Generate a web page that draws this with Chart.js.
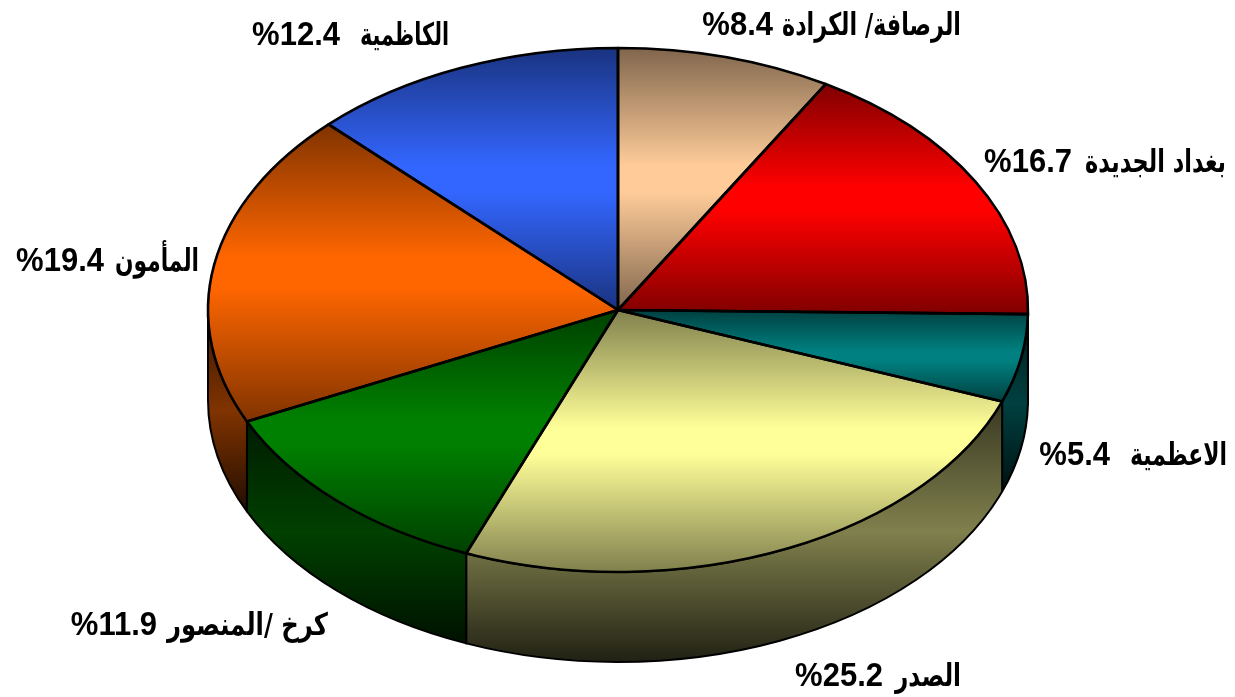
<!DOCTYPE html>
<html lang="ar">
<head>
<meta charset="utf-8">
<style>html,body{margin:0;padding:0;background:#fff}canvas{display:block}</style>
<script src="https://cdn.jsdelivr.net/npm/chart.js@4"></script>
</head>
<body>
<canvas id="c" width="1235" height="697"></canvas>
<script>
const categories = ["الرصافة/ الكرادة","بغداد الجديدة","الاعظمية","الصدر","كرخ /المنصور","المأمون","الكاظمية"];
const values = [8.4,16.7,5.4,25.2,11.9,19.4,12.4];
const baseColors = [[255,204,153],[255,0,0],[0,128,128],[255,255,153],[0,128,0],[255,102,0],[51,102,255]];
const nameRight = [961,1226,1227,961,328,199,449];
const nameWidth = [179,141,97,66,161,84,89];
const numberRight = [773,1072,1110,883,157,104,340];
const baselines = [35,172,465,686,635,271,45];

const SQUASH = 262/410, DEPTH = 90, RADIUS = 410;
const shade = (c,f)=>`rgb(${c.map(v=>Math.round(v*f)).join(",")})`;

function sliceAngles(i){
  const total = values.reduce((a,b)=>a+b,0);
  let s = 0; for(let k=0;k<i;k++) s += values[k];
  return [-Math.PI/2 + s/total*2*Math.PI, -Math.PI/2 + (s+values[i])/total*2*Math.PI];
}
function sinRange(a0,a1){
  let lo = Math.min(0,Math.sin(a0),Math.sin(a1)), hi = Math.max(0,Math.sin(a0),Math.sin(a1));
  for(const t of [-Math.PI/2,Math.PI/2,3*Math.PI/2]){
    if(t>a0&&t<a1){lo=Math.min(lo,Math.sin(t));hi=Math.max(hi,Math.sin(t));}
  }
  return [lo,hi];
}
function topFill(c){
  const area = c.chart.chartArea, col = baseColors[c.dataIndex];
  if(!area) return shade(col,1);
  const cy = (area.top+area.bottom)/2;
  const [a0,a1] = sliceAngles(c.dataIndex);
  const [lo,hi] = sinRange(a0,a1);
  const g = c.chart.ctx.createLinearGradient(0,cy+lo*RADIUS,0,cy+hi*RADIUS);
  g.addColorStop(0,shade(col,.5));
  g.addColorStop(.45,shade(col,1));
  g.addColorStop(.55,shade(col,1));
  g.addColorStop(1,shade(col,.5));
  return g;
}
const pie3d = {
  id:"pie3d",
  beforeDatasetsDraw(chart){
    const ctx = chart.ctx, arcs = chart.getDatasetMeta(0).data;
    arcs.forEach((el,i)=>{
      const a0 = Math.max(el.startAngle,0), a1 = Math.min(el.endAngle,Math.PI);
      if(a1<=a0) return;
      const R = el.outerRadius, r = R*SQUASH, col = baseColors[i];
      const yA = el.y + Math.min(Math.sin(a0),Math.sin(a1))*r;
      const yB = el.y + (a0<Math.PI/2&&a1>Math.PI/2 ? r : Math.max(Math.sin(a0),Math.sin(a1))*r) + DEPTH;
      const g = ctx.createLinearGradient(0,yA,0,yB);
      g.addColorStop(0,shade(col,.22));
      g.addColorStop(.5,shade(col,.5));
      g.addColorStop(1,shade(col,.13));
      ctx.save();
      ctx.beginPath();
      ctx.ellipse(el.x,el.y,R,r,0,a0,a1,false);
      ctx.ellipse(el.x,el.y+DEPTH,R,r,0,a1,a0,true);
      ctx.closePath();
      ctx.fillStyle = g; ctx.fill();
      ctx.strokeStyle = "#000"; ctx.lineWidth = 2; ctx.lineJoin = "round"; ctx.stroke();
      ctx.restore();
    });
    ctx.save();
    const e = arcs[0];
    ctx.translate(e.x,e.y); ctx.scale(1,SQUASH); ctx.translate(-e.x,-e.y);
  },
  afterDatasetsDraw(chart){
    const ctx = chart.ctx, arcs = chart.getDatasetMeta(0).data;
    ctx.restore();
    arcs.forEach(el=>{
      ctx.save();
      ctx.beginPath();
      ctx.moveTo(el.x,el.y);
      ctx.ellipse(el.x,el.y,el.outerRadius,el.outerRadius*SQUASH,0,el.startAngle,el.endAngle,false);
      ctx.closePath();
      ctx.strokeStyle = "#000"; ctx.lineWidth = 2.6; ctx.lineJoin = "round"; ctx.stroke();
      ctx.restore();
    });
  },
  afterDraw(chart){
    const ctx = chart.ctx;
    categories.forEach((name,i)=>{
      const y = baselines[i];
      ctx.save();
      ctx.fillStyle = "#000"; ctx.textBaseline = "alphabetic";
      ctx.direction = "rtl"; ctx.textAlign = "right";
      ctx.font = 'bold 31px "DejaVu Sans","Liberation Sans",sans-serif';
      const sx = nameWidth[i]/ctx.measureText(name).width;
      ctx.translate(nameRight[i],y); ctx.scale(sx,1);
      ctx.fillText(name,0,0);
      ctx.restore();

      ctx.save();
      ctx.fillStyle = "#000"; ctx.textBaseline = "alphabetic";
      ctx.direction = "ltr"; ctx.textAlign = "right";
      ctx.font = 'bold 31px "Liberation Sans",Arial,sans-serif';
      ctx.translate(numberRight[i],y); ctx.scale(1,1.1);
      ctx.fillText("%"+values[i].toFixed(1),0,0);
      ctx.restore();
    });
  }
};
new Chart(document.getElementById("c"),{
  type:"pie",
  data:{labels:categories,datasets:[{data:values,backgroundColor:topFill,borderWidth:0,clip:false}]},
  options:{
    responsive:false,animation:false,radius:RADIUS,
    layout:{padding:{left:1,bottom:77}},
    plugins:{legend:{display:false},tooltip:{enabled:false},title:{display:false}}
  },
  plugins:[pie3d]
});
</script>
</body>
</html>
